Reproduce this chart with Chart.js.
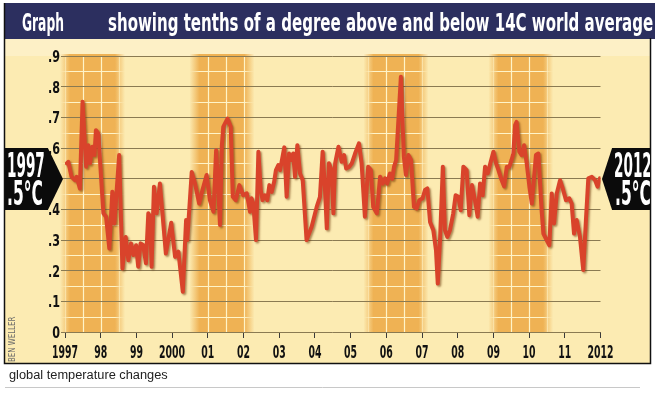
<!DOCTYPE html>
<html><head><meta charset="utf-8">
<script src="https://cdn.jsdelivr.net/npm/chart.js@4.4.1/dist/chart.umd.min.js"></script>
<style>
html,body{margin:0;padding:0;background:#fff;}
#wrap{position:relative;width:655px;height:394px;overflow:hidden;}
#c{position:absolute;left:0;top:0;}
.t{position:absolute;white-space:nowrap;line-height:1;transform-origin:0 0;font-family:'Liberation Sans Narrow','DejaVu Sans Condensed','Liberation Sans',sans-serif;font-weight:bold;}
.tag{position:absolute;background:#0b0b0b;}
#clipR{position:absolute;left:0;top:0;width:650px;height:394px;overflow:hidden;}
</style></head><body>
<div id="wrap">
<canvas id="c" width="655" height="394"></canvas>
<div class="tag" style="left:5px;top:148px;width:58px;height:62px;clip-path:polygon(0 0,74% 0,100% 50%,74% 100%,0 100%)"></div>
<div class="t" data-x="7" data-b="177" data-w="38" data-fs="33" style="color:#fff">1997</div>
<div class="t" data-x="7" data-b="205" data-w="36" data-fs="33" style="color:#fff">.5°C</div>
<div id="clipR">
 <div class="tag" style="left:602px;top:148px;width:48px;height:62px;clip-path:polygon(0 50%,21% 0,100% 0,100% 100%,21% 100%)"></div>
 <div class="t" data-x="614" data-b="177" data-w="38" data-fs="33" style="color:#fff">2012</div>
 <div class="t" data-x="615" data-b="205" data-w="36" data-fs="33" style="color:#fff">.5°C</div>
</div>
<div class="t" data-x="22" data-b="31" data-w="42" data-fs="25" style="color:#fff">Graph</div>
<div class="t" data-x="108" data-b="31" data-w="545" data-fs="25" style="color:#fff">showing tenths of a degree above and below 14C world average</div>
<div class="t" data-x="9" data-b="362" data-w="45" data-fs="8" data-rot="1" style="color:#6a6a6a;font-weight:normal">BEN WELLER</div>
<div class="t" data-x="9" data-b="379" data-w="159" data-fs="12" style="color:#222;font-weight:normal;font-family:'Liberation Sans',Arial,sans-serif">global temperature changes</div>
</div>
<script>
// ---- data (months since Jan 1997, anomaly above 14C in degrees) ----
const months = [0.6,1.1,2.2,3.4,3.9,5.0,5.9,7.1,7.8,8.4,9.2,9.9,10.4,11.2,12.9,13.8,14.9,15.9,16.6,18.2,
19.3,20.4,21.3,22.2,23.0,23.9,24.6,25.4,26.3,27.2,28.0,28.6,29.1,29.9,30.8,31.9,33.9,35.7,37.0,38.1,
39.6,40.7,41.1,42.6,43.7,45.1,46.2,47.6,48.7,49.9,50.8,51.3,52.1,52.7,53.2,54.6,55.7,56.4,57.4,58.6,
59.9,61.1,62.2,62.7,63.3,64.2,65.0,65.8,66.4,67.2,68.0,68.7,69.5,70.3,70.9,71.7,72.3,73.7,74.5,75.3,
76.2,76.7,77.3,78.1,79.0,79.9,81.2,82.9,84.6,85.7,86.6,87.4,88.0,88.7,89.6,90.2,90.8,91.9,93.0,93.8,
94.5,95.6,96.4,97.5,98.8,99.7,100.8,101.9,102.8,103.6,104.8,105.9,106.8,107.6,108.3,109.2,110.0,110.6,111.3,112.9,
113.9,114.6,115.4,116.3,117.3,118.2,119.1,120.2,121.0,121.8,122.7,123.8,124.7,125.3,126.1,127.0,127.7,128.5,129.4,130.5,
131.3,132.2,133.0,133.9,135.0,135.9,136.8,137.8,138.7,139.5,140.4,141.2,142.1,143.1,144.0,144.9,145.7,146.6,147.6,148.5,
149.4,150.1,150.7,151.3,151.8,152.7,153.5,154.3,155.2,156.1,156.9,158.3,159.1,160.2,160.8,161.9,162.8,163.6,164.4,165.3,
166.4,167.3,168.4,169.5,170.3,171.1,172.0,173.1,174.2,175.1,175.9,177.1,178.2,179.0,179.8];
const anomaly = [.550,.555,.506,.495,.506,.468,.751,.539,.609,.550,.604,.577,.658,.647,.387,.376,.272,.457,.354,.577,
.207,.310,.234,.289,.251,.283,.213,.289,.283,.224,.387,.376,.213,.474,.387,.484,.256,.356,.245,.262,
.131,.365,.300,.522,.484,.419,.463,.512,.430,.392,.593,.506,.349,.604,.669,.696,.669,.441,.430,.479,
.446,.452,.392,.436,.419,.300,.588,.463,.430,.446,.430,.479,.457,.490,.528,.544,.528,.602,.441,.582,
.561,.582,.506,.609,.517,.495,.300,.343,.408,.441,.588,.463,.338,.550,.528,.387,.550,.604,.555,.577,
.533,.539,.550,.582,.615,.550,.376,.539,.528,.408,.387,.506,.484,.501,.484,.517,.500,.539,.560,.832,
.571,.512,.577,.561,.408,.403,.430,.436,.463,.468,.359,.332,.267,.158,.310,.539,.332,.310,.332,.387,
.446,.441,.397,.539,.528,.381,.479,.430,.376,.484,.446,.539,.517,.555,.588,.550,.528,.500,.475,.539,
.539,.561,.582,.675,.685,.588,.577,.609,.550,.474,.419,.577,.582,.397,.321,.300,.283,.452,.354,.452,
.495,.468,.430,.436,.419,.321,.365,.310,.202,.365,.501,.506,.495,.474,.501];
const yearTickLabels = ['1997','98','99','2000','01','02','03','04','05','06','07','08','09','10','11','2012'];
const yTickLabels = ['0','.1','.2','.3','.4','.5','.6','.7','.8','.9'];
const bandStart = [0, 43.5, 102, 144];
const bandEnd   = [18.5, 62, 120.5, 162.4];

const FONT = "'Liberation Sans Narrow','DejaVu Sans Condensed','Liberation Sans',sans-serif";

function bandGrad(ctx, x0, x1, rgb){
  const f = 10, W = x1 - x0;
  const g = ctx.createLinearGradient(x0, 0, x1, 0);
  const e = Math.min(0.45, f / W);
  g.addColorStop(0, `rgba(${rgb},0)`);
  g.addColorStop(e, `rgba(${rgb},1)`);
  g.addColorStop(1 - e, `rgba(${rgb},1)`);
  g.addColorStop(1, `rgba(${rgb},0)`);
  return g;
}

const panelPlugin = {
  id: 'panel',
  beforeDraw(chart){
    const {ctx, chartArea: a, scales: {x, y}} = chart;
    ctx.save();
    ctx.fillStyle = '#ffffff'; ctx.fillRect(0, 0, 655, 394);
    ctx.fillStyle = '#fcebb2'; ctx.fillRect(5, 38, 645, 325);
    ctx.fillStyle = '#fdf0c6'; ctx.fillRect(5, 38, 645, a.top - 38);
    ctx.fillStyle = '#2c2f5f'; ctx.fillRect(4, 3, 651, 36);
    for (let k = 0; k < bandStart.length; k++){
      const x0 = x.getPixelForValue(bandStart[k]) - 5, x1 = x.getPixelForValue(bandEnd[k]) + 5;
      ctx.fillStyle = bandGrad(ctx, x0, x1, '239,178,84');
      ctx.fillRect(x0, a.top - 2, x1 - x0, a.bottom - a.top + 2);
      ctx.strokeStyle = bandGrad(ctx, x0, x1, '255,244,200');
      ctx.lineWidth = 1.2;
      for (let v = 0.05; v < 0.9; v += 0.1){
        const py = Math.round(y.getPixelForValue(v)) + 0.5;
        ctx.beginPath(); ctx.moveTo(x0, py); ctx.lineTo(x1, py); ctx.stroke();
      }
      for (let m = Math.ceil(bandStart[k] / 6) * 6; m <= bandEnd[k]; m += 6){
        const px = Math.round(x.getPixelForValue(m)) + 0.5;
        ctx.beginPath(); ctx.moveTo(px, a.top); ctx.lineTo(px, a.bottom); ctx.stroke();
      }
    }
    ctx.strokeStyle = '#111'; ctx.lineWidth = 1.5;
    ctx.beginPath();
    ctx.moveTo(4.5, 3); ctx.lineTo(4.5, 363.5); ctx.lineTo(650.5, 363.5); ctx.lineTo(650.5, 38);
    ctx.stroke();
    ctx.strokeStyle = '#c8c8c8'; ctx.lineWidth = 1;
    ctx.beginPath(); ctx.moveTo(5, 387.5); ctx.lineTo(640, 387.5); ctx.stroke();
    ctx.restore();
  }
};

// condensed tick labels, placed from the library's own scale ticks
const condensedTicks = {
  id: 'condensedTicks',
  afterDraw(chart){
    const {ctx, scales: {x, y}} = chart;
    ctx.save();
    ctx.fillStyle = '#111';
    ctx.font = "bold 18px " + FONT;
    ctx.textAlign = 'center'; ctx.textBaseline = 'alphabetic';
    const sx = 26 / ctx.measureText('2000').width;
    x.ticks.forEach(t => {
      const px = x.getPixelForValue(t.value);
      ctx.save(); ctx.translate(px, 358); ctx.scale(sx, 1);
      ctx.fillText(yearTickLabels[Math.round(t.value / 12)], 0, 0);
      ctx.restore();
    });
    ctx.font = "bold 16px " + FONT;
    ctx.textAlign = 'right';
    const sy = 12 / ctx.measureText('.9').width;
    y.ticks.forEach(t => {
      const py = y.getPixelForValue(t.value);
      ctx.save(); ctx.translate(60, py + 6); ctx.scale(sy, 1);
      ctx.fillText(yTickLabels[Math.round(t.value * 10)], 0, 0);
      ctx.restore();
    });
    ctx.restore();
  }
};

const shadowPlugin = {
  id: 'lineShadow',
  beforeDatasetDraw(chart){
    const c = chart.ctx; c.save();
    c.shadowColor = 'rgba(110,55,10,0.55)'; c.shadowBlur = 2; c.shadowOffsetX = 1.5; c.shadowOffsetY = 1.5;
  },
  afterDatasetDraw(chart){ chart.ctx.restore(); }
};

new Chart(document.getElementById('c'), {
  type: 'line',
  data: { datasets: [{
    data: months.map((m, i) => ({x: m, y: anomaly[i]})),
    borderColor: '#d9432b', borderWidth: 4, pointRadius: 0, tension: 0,
    borderJoinStyle: 'round', borderCapStyle: 'round', fill: false
  }]},
  options: {
    responsive: false, animation: false, devicePixelRatio: 1,
    layout: { padding: { left: 5, right: 54.5, top: 56, bottom: 31 } },
    plugins: { legend: {display: false}, tooltip: {enabled: false}, title: {display: false} },
    scales: {
      x: {
        type: 'linear', min: 0, max: 180,
        afterBuildTicks: s => { s.ticks = yearTickLabels.map((_, i) => ({value: i * 12})); },
        afterFit: s => { s.height = 31; },
        grid: { drawOnChartArea: false, drawTicks: true, tickLength: 6, color: '#3a3a3a', lineWidth: 1 },
        border: { display: false },
        ticks: { autoSkip: false, maxRotation: 0, padding: 2, color: 'rgba(0,0,0,0)',
          font: { family: FONT, weight: 'bold', size: 12 },
          callback: v => yearTickLabels[Math.round(v / 12)] }
      },
      y: {
        min: 0, max: 0.9,
        afterBuildTicks: s => { s.ticks = yTickLabels.map((_, i) => ({value: i / 10})); },
        afterFit: s => { s.width = 60; },
        grid: { color: '#8a7a52', lineWidth: 1, tickLength: 4 },
        border: { display: false },
        ticks: { padding: 1, color: 'rgba(0,0,0,0)',
          font: { family: FONT, weight: 'bold', size: 12 },
          callback: v => yTickLabels[Math.round(v * 10)] }
      }
    }
  },
  plugins: [panelPlugin, shadowPlugin, condensedTicks]
});

function fitTexts(){
  document.querySelectorAll('.t').forEach(el => {
    const fs = +el.dataset.fs;
    el.style.fontSize = fs + 'px';
    el.style.left = el.dataset.x + 'px';
    el.style.transform = 'none';
    const w = el.offsetWidth;
    const s = el.dataset.w ? (+el.dataset.w) / w : 1;
    if (el.dataset.rot){
      el.style.top = el.dataset.b + 'px';
      el.style.transform = 'rotate(-90deg) scaleX(' + s + ')';
    } else {
      el.style.top = (el.dataset.b - 0.85 * fs) + 'px';
      el.style.transform = 'scaleX(' + s + ')';
    }
  });
}
fitTexts();
</script>
</body></html>
